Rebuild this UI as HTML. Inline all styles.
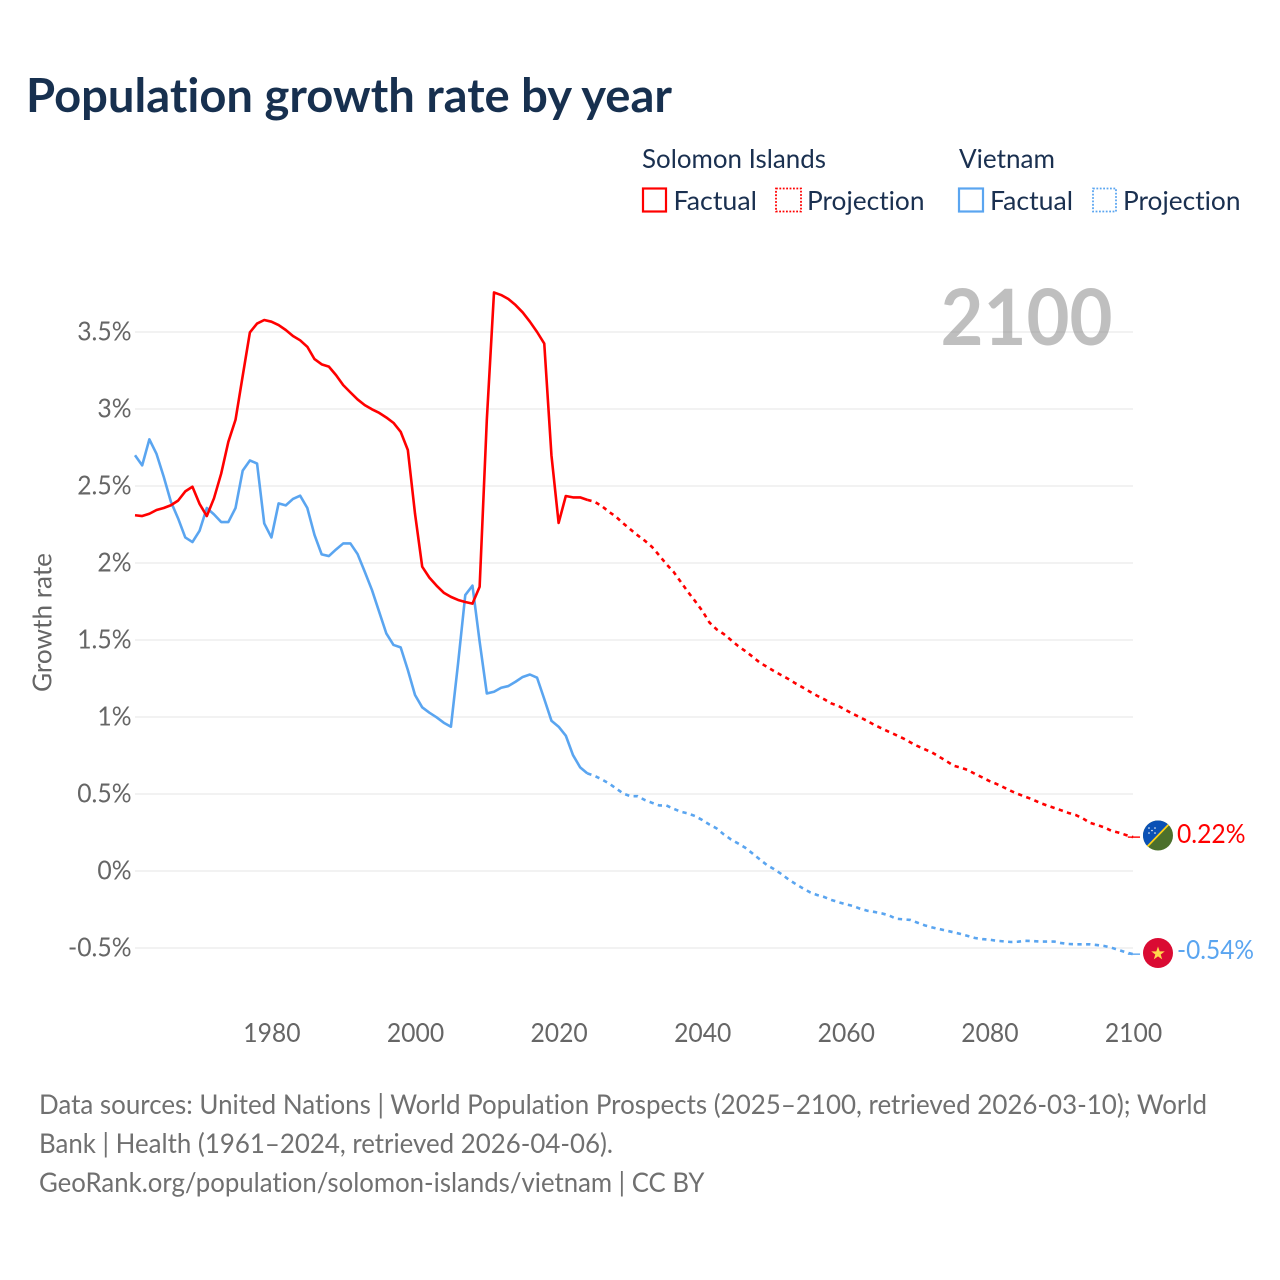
<!DOCTYPE html>
<html lang="en">
<head>
<meta charset="utf-8">
<title>Population growth rate by year</title>
<style>
html,body{margin:0;padding:0;background:#fff;width:1280px;height:1280px;overflow:hidden}
svg{display:block}
text{font-family:"Lato","Carlito","Liberation Sans",sans-serif;font-variant-ligatures:none}
</style>
</head>
<body>
<svg id="chart" xmlns="http://www.w3.org/2000/svg" width="1280" height="1280" viewBox="0 0 1280 1280">
  <rect width="1280" height="1280" fill="#fff"/>
  <text x="26" y="112" font-size="46.5" font-weight="700" fill="#17304f" textLength="646" lengthAdjust="spacingAndGlyphs">Population growth rate by year</text>

  <g font-size="26.5" fill="#1a3050">
    <text x="642" y="168" textLength="184" lengthAdjust="spacingAndGlyphs">Solomon Islands</text>
    <text x="959" y="168" textLength="96" lengthAdjust="spacingAndGlyphs">Vietnam</text>
    <g>
      <rect x="643" y="188.5" width="23" height="23" fill="none" stroke="#ff0000" stroke-width="2.2"/>
      <text x="673.5" y="210" textLength="83.5" lengthAdjust="spacingAndGlyphs">Factual</text>
    </g>
    <g>
      <rect x="776" y="188.5" width="25" height="23" fill="none" stroke="#ff0000" stroke-width="1.8" stroke-dasharray="1.8 1.6"/>
      <text x="807" y="210" textLength="117.5" lengthAdjust="spacingAndGlyphs">Projection</text>
    </g>
    <g>
      <rect x="959" y="188.5" width="24" height="23" fill="none" stroke="#5aa5f0" stroke-width="2.2"/>
      <text x="990" y="210" textLength="83" lengthAdjust="spacingAndGlyphs">Factual</text>
    </g>
    <g>
      <rect x="1093" y="188.5" width="23" height="23" fill="none" stroke="#5aa5f0" stroke-width="1.8" stroke-dasharray="1.8 1.6"/>
      <text x="1123" y="210" textLength="117.5" lengthAdjust="spacingAndGlyphs">Projection</text>
    </g>
  </g>

  <g id="grid"></g>
  <g id="yTicks"></g>
  <g id="xTicks"></g>
  <text transform="translate(51.5,692) rotate(-90)" font-size="26" fill="#666666" textLength="139" lengthAdjust="spacingAndGlyphs">Growth rate</text>

  <text x="940.5" y="345" font-size="78" font-weight="700" fill="#808080" fill-opacity="0.5" textLength="172" lengthAdjust="spacingAndGlyphs">2100</text>

  <g id="series" fill="none" stroke-width="2.6" stroke-linejoin="round"></g>

  <defs>
    <clipPath id="flagClipSolomon"><circle cx="1158" cy="835.5" r="15"/></clipPath>
    <clipPath id="flagClipVietnam"><circle cx="1158" cy="953" r="15"/></clipPath>
  </defs>
  <g id="flag-solomon" clip-path="url(#flagClipSolomon)">
    <rect x="1143" y="820" width="30" height="31" fill="#4c702c"/>
    <polygon points="1143,820 1173,820 1143,851" fill="#0a51b5"/>
    <line x1="1143" y1="851" x2="1173" y2="820" stroke="#fcd116" stroke-width="1.8"/>
    <g fill="#fff">
      <circle cx="1149" cy="828" r="0.8"/>
      <circle cx="1155" cy="828" r="0.8"/>
      <circle cx="1152" cy="830.5" r="0.8"/>
      <circle cx="1149" cy="833" r="0.8"/>
      <circle cx="1155" cy="833" r="0.8"/>
    </g>
  </g>
  <g id="flag-vietnam" clip-path="url(#flagClipVietnam)">
    <rect x="1143" y="938" width="30" height="30" fill="#da0b33"/>
    <polygon points="1158,946.5 1159.7,951.4 1164.8,951.4 1160.7,954.5 1162.2,959.4 1158,956.4 1153.8,959.4 1155.3,954.5 1151.2,951.4 1156.3,951.4" fill="#ffd84d"/>
  </g>

  <text x="1177" y="843" font-size="26" fill="#ff0000" textLength="68.5" lengthAdjust="spacingAndGlyphs">0.22%</text>
  <text x="1177" y="959" font-size="26" fill="#5aa5f0" textLength="77" lengthAdjust="spacingAndGlyphs">-0.54%</text>

  <g font-size="27" fill="#707070">
    <text x="39" y="1114" textLength="1168" lengthAdjust="spacingAndGlyphs">Data sources: United Nations | World Population Prospects (2025–2100, retrieved 2026-03-10); World</text>
    <text x="39" y="1153" textLength="574" lengthAdjust="spacingAndGlyphs">Bank | Health (1961–2024, retrieved 2026-04-06).</text>
    <text x="39" y="1192" textLength="665.5" lengthAdjust="spacingAndGlyphs">GeoRank.org/population/solomon-islands/vietnam | CC BY</text>
  </g>
</svg>
<script>
var firstFactualYear = 1961;
var firstProjectionYear = 2025;
var xTickYears = ["1980","2000","2020","2040","2060","2080","2100"];
var yTickValues = [-0.5,0,0.5,1,1.5,2,2.5,3,3.5];
var yTickLabels = ["-0.5%","0%","0.5%","1%","1.5%","2%","2.5%","3%","3.5%"];

var solomonFactual = [2.31,2.305,2.32,2.344,2.357,2.375,2.405,2.465,2.495,2.383,2.305,2.42,2.58,2.787,2.93,3.215,3.497,3.555,3.578,3.567,3.545,3.513,3.474,3.446,3.404,3.324,3.29,3.275,3.22,3.155,3.108,3.062,3.025,2.998,2.975,2.945,2.91,2.852,2.734,2.32,1.976,1.905,1.853,1.807,1.78,1.76,1.747,1.736,1.846,2.93,3.757,3.74,3.714,3.675,3.627,3.567,3.5,3.425,2.7,2.26,2.435,2.426,2.426,2.41];
var solomonProjection = [2.398,2.37,2.333,2.3,2.257,2.218,2.18,2.145,2.105,2.05,1.993,1.943,1.878,1.813,1.753,1.69,1.614,1.569,1.539,1.5,1.461,1.428,1.392,1.354,1.326,1.298,1.272,1.247,1.218,1.192,1.164,1.138,1.115,1.088,1.071,1.045,1.02,0.998,0.974,0.948,0.926,0.904,0.883,0.861,0.835,0.811,0.79,0.77,0.742,0.714,0.684,0.671,0.656,0.63,0.608,0.584,0.565,0.543,0.52,0.5,0.482,0.465,0.443,0.426,0.41,0.394,0.377,0.364,0.342,0.313,0.299,0.283,0.261,0.249,0.234,0.22];
var vietnamFactual = [2.7,2.634,2.803,2.708,2.56,2.398,2.29,2.166,2.136,2.21,2.357,2.316,2.266,2.266,2.357,2.6,2.666,2.646,2.257,2.166,2.387,2.374,2.416,2.437,2.357,2.182,2.056,2.045,2.088,2.127,2.127,2.058,1.943,1.825,1.684,1.543,1.468,1.452,1.305,1.143,1.063,1.028,0.998,0.963,0.937,1.35,1.792,1.853,1.489,1.153,1.164,1.19,1.201,1.229,1.26,1.276,1.255,1.117,0.976,0.937,0.879,0.753,0.673,0.634];
var vietnamProjection = [0.618,0.595,0.569,0.536,0.503,0.486,0.486,0.461,0.443,0.426,0.426,0.404,0.385,0.374,0.357,0.331,0.302,0.277,0.238,0.205,0.179,0.151,0.114,0.076,0.039,0.012,-0.019,-0.054,-0.084,-0.112,-0.138,-0.156,-0.169,-0.188,-0.203,-0.216,-0.227,-0.245,-0.258,-0.266,-0.275,-0.288,-0.31,-0.314,-0.318,-0.336,-0.353,-0.366,-0.377,-0.387,-0.398,-0.409,-0.422,-0.435,-0.442,-0.446,-0.453,-0.457,-0.461,-0.459,-0.453,-0.455,-0.458,-0.458,-0.458,-0.468,-0.474,-0.476,-0.476,-0.476,-0.481,-0.487,-0.498,-0.513,-0.528,-0.54];

var NS = "http://www.w3.org/2000/svg";
function xScale(year){ return 135 + (year - 1961) * 7.18; }
function yScale(value){ return 871 - value * 154; }
function seriesPath(startYear, values, prefix){
  var d = prefix || "";
  for (var i = 0; i < values.length; i++){
    d += (d ? "L" : "M") + xScale(startYear + i).toFixed(2) + " " + yScale(values[i]).toFixed(2);
  }
  return d;
}
function narrowLabel(t){
  t.setAttribute("textLength", (t.getComputedTextLength() * 0.95).toFixed(2));
  t.setAttribute("lengthAdjust", "spacingAndGlyphs");
}

var gridGroup = document.getElementById("grid");
var yGroup = document.getElementById("yTicks");
var xGroup = document.getElementById("xTicks");
var seriesGroup = document.getElementById("series");

yTickValues.forEach(function(v, i){
  var line = document.createElementNS(NS, "line");
  
  
  line.setAttribute("x1", xScale(1961));
  line.setAttribute("x2", xScale(2100));
  line.setAttribute("y1", yScale(v));
  line.setAttribute("y2", yScale(v));
  line.setAttribute("stroke", "#eeeeee");
  line.setAttribute("stroke-width", "1.6");
  gridGroup.appendChild(line);

  var t = document.createElementNS(NS, "text");
  
  
  t.setAttribute("x", 131.5);
  t.setAttribute("y", yScale(v) + 8.5);
  t.setAttribute("text-anchor", "end");
  t.setAttribute("font-size", "26");
  t.setAttribute("fill", "#666666");
  t.textContent = yTickLabels[i];
  yGroup.appendChild(t);
  narrowLabel(t);
});

xTickYears.forEach(function(label){
  var t = document.createElementNS(NS, "text");
  
  
  t.setAttribute("x", xScale(Number(label)) + 0.5);
  t.setAttribute("y", 1042);
  t.setAttribute("text-anchor", "middle");
  t.setAttribute("font-size", "26");
  t.setAttribute("fill", "#666666");
  t.textContent = label;
  xGroup.appendChild(t);
  narrowLabel(t);
});

function lastPoint(startYear, values){
  var i = values.length - 1;
  return "M" + xScale(startYear + i).toFixed(2) + " " + yScale(values[i]).toFixed(2);
}

var projSolomon = document.createElementNS(NS, "path");


projSolomon.setAttribute("d", seriesPath(firstProjectionYear, solomonProjection, lastPoint(firstFactualYear, solomonFactual)));
projSolomon.setAttribute("stroke", "#ff0000");
projSolomon.setAttribute("stroke-dasharray", "4.3 4.4");
seriesGroup.appendChild(projSolomon);

var projVietnam = document.createElementNS(NS, "path");


projVietnam.setAttribute("d", seriesPath(firstProjectionYear, vietnamProjection, lastPoint(firstFactualYear, vietnamFactual)));
projVietnam.setAttribute("stroke", "#5aa5f0");
projVietnam.setAttribute("stroke-dasharray", "4.3 4.4");
seriesGroup.appendChild(projVietnam);

var factVietnam = document.createElementNS(NS, "path");


factVietnam.setAttribute("d", seriesPath(firstFactualYear, vietnamFactual));
factVietnam.setAttribute("stroke", "#5aa5f0");
seriesGroup.appendChild(factVietnam);

var factSolomon = document.createElementNS(NS, "path");


factSolomon.setAttribute("d", seriesPath(firstFactualYear, solomonFactual));
factSolomon.setAttribute("stroke", "#ff0000");
seriesGroup.appendChild(factSolomon);

var connectorSolomon = document.createElementNS(NS, "line");


connectorSolomon.setAttribute("x1", xScale(2099) + 2);
connectorSolomon.setAttribute("x2", xScale(2100) + 7);
connectorSolomon.setAttribute("y1", yScale(solomonProjection[solomonProjection.length - 1]));
connectorSolomon.setAttribute("y2", yScale(solomonProjection[solomonProjection.length - 1]));
connectorSolomon.setAttribute("stroke", "#ff0000");
connectorSolomon.setAttribute("stroke-width", "1.4");
seriesGroup.appendChild(connectorSolomon);

var connectorVietnam = document.createElementNS(NS, "line");


connectorVietnam.setAttribute("x1", xScale(2099) + 2);
connectorVietnam.setAttribute("x2", xScale(2100) + 7);
connectorVietnam.setAttribute("y1", yScale(vietnamProjection[vietnamProjection.length - 1]));
connectorVietnam.setAttribute("y2", yScale(vietnamProjection[vietnamProjection.length - 1]));
connectorVietnam.setAttribute("stroke", "#5aa5f0");
connectorVietnam.setAttribute("stroke-width", "1.4");
seriesGroup.appendChild(connectorVietnam);
</script>
</body>
</html>
